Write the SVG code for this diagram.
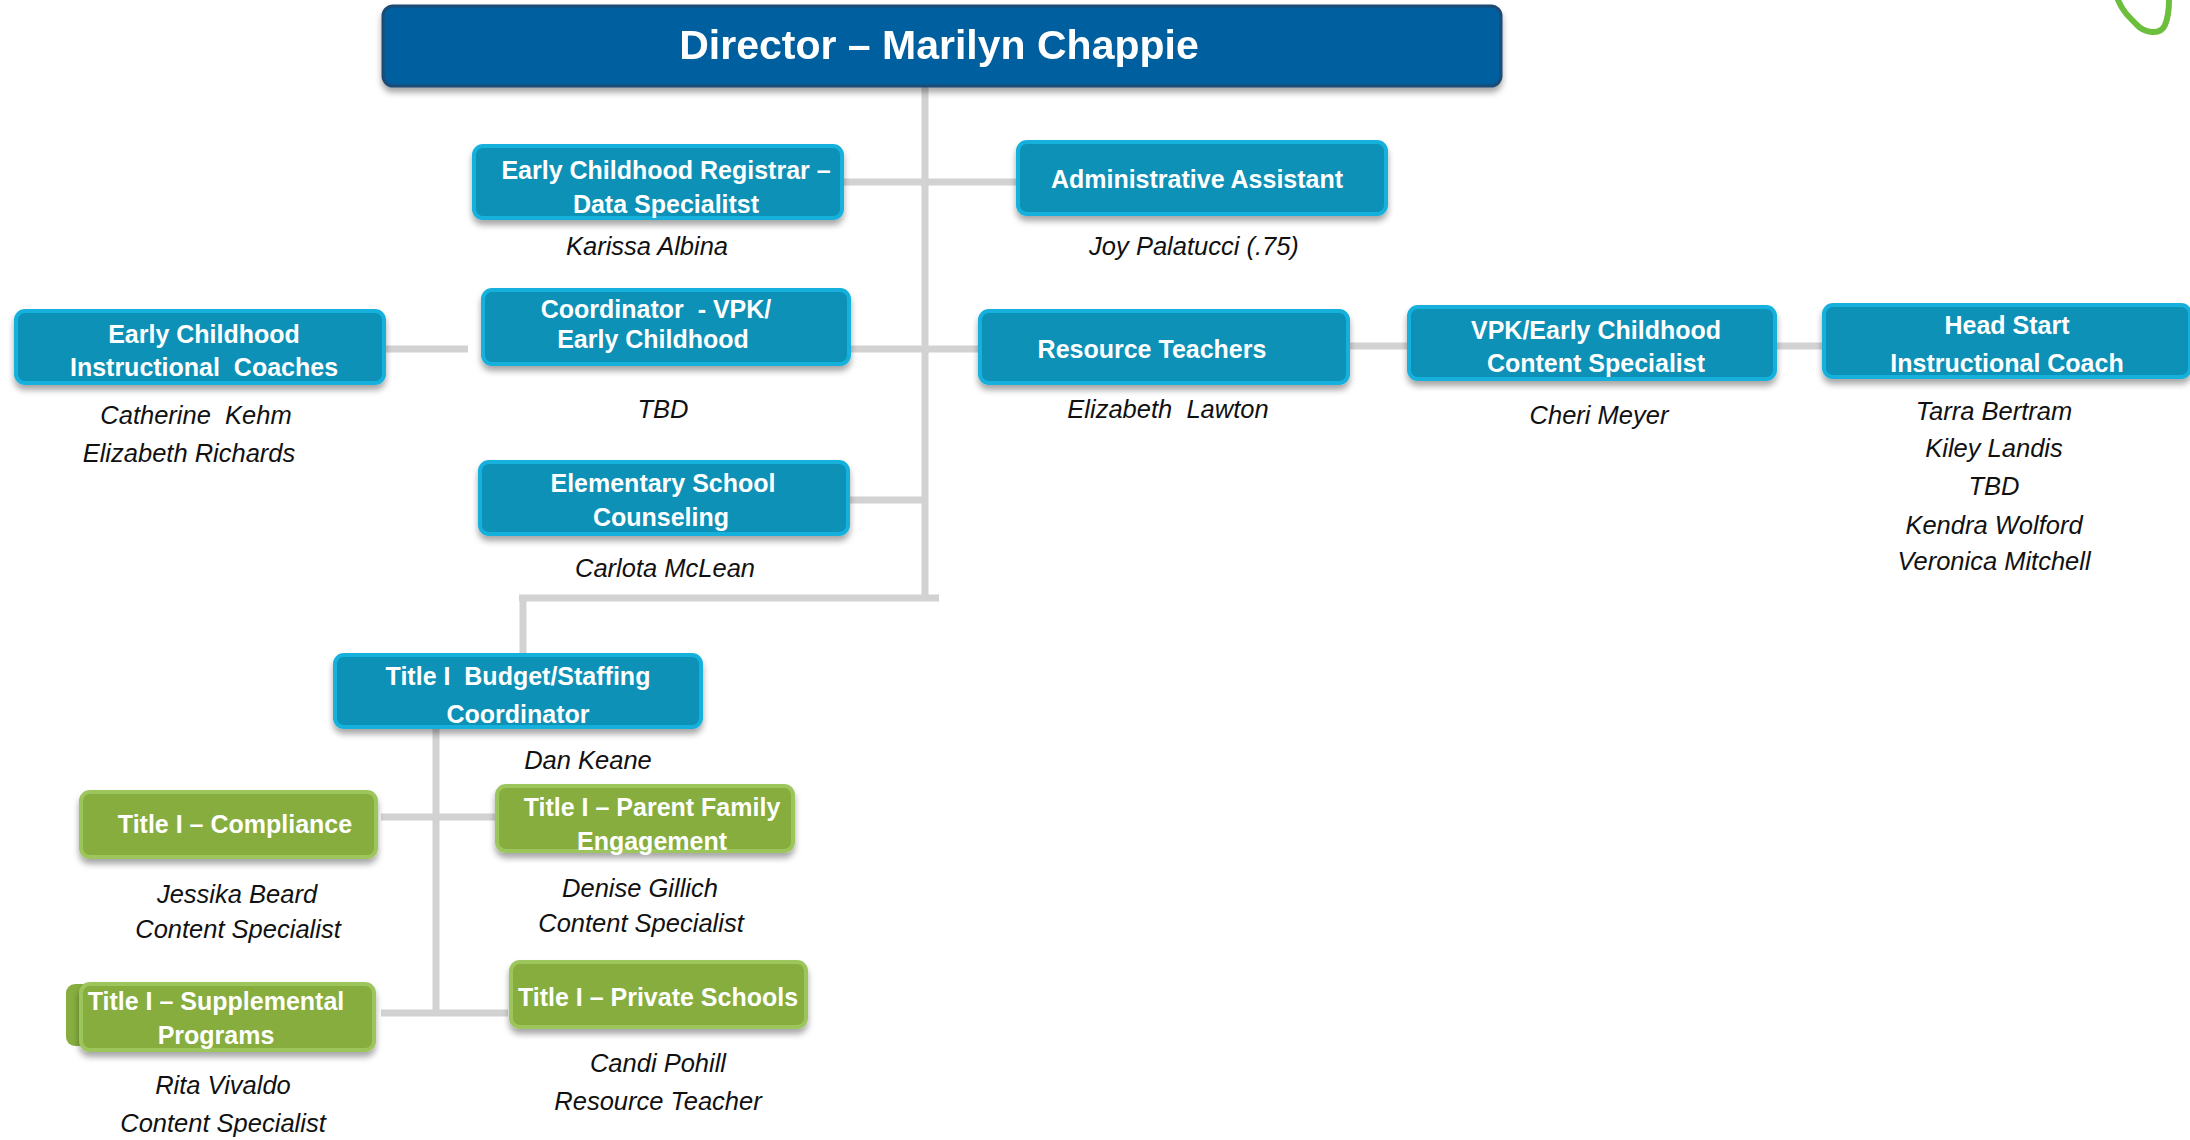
<svg xmlns="http://www.w3.org/2000/svg" width="2190" height="1140" viewBox="0 0 2190 1140">
<style>
.conn{stroke:#d2d2d2;stroke-width:7;fill:none;stroke-linecap:butt}
.blue{fill:#0a91b7;stroke:#14b0dc;stroke-width:4}
.green{fill:#86ad3e;stroke:#9cc55c;stroke-width:4}
.dir{fill:#035e9e;stroke:#1d4b74;stroke-width:3}
text{white-space:pre}
.lbl{font-family:"Liberation Sans",Arial,sans-serif;font-weight:bold;font-size:25px;fill:#fff;text-anchor:middle}
.dlbl{font-family:"Liberation Sans",Arial,sans-serif;font-weight:bold;font-size:41px;fill:#fff;text-anchor:middle}
.nm{font-family:"Liberation Sans",Arial,sans-serif;font-style:italic;font-size:25.5px;fill:#111;text-anchor:middle}
</style>
<defs>
<filter id="sh" x="-10%" y="-20%" width="120%" height="160%">
<feDropShadow dx="0" dy="5" stdDeviation="3" flood-color="#000" flood-opacity="0.35"/>
</filter>
</defs>
<rect width="2190" height="1140" fill="#fff"/>
<path d="M2118,0 C2122,10 2128,16 2136,24 C2144,33 2160,36 2165,25 C2168,18 2169,8 2169,0" fill="none" stroke="#6cbf3c" stroke-width="6" stroke-linecap="round"/>
<g id="connectors">
<line class="conn" x1="925" y1="87" x2="925" y2="601"/>
<line class="conn" x1="842" y1="182" x2="1017" y2="182"/>
<line class="conn" x1="384" y1="349" x2="468" y2="349"/>
<line class="conn" x1="849" y1="349" x2="979" y2="349"/>
<line class="conn" x1="1348" y1="346" x2="1408" y2="346"/>
<line class="conn" x1="1775" y1="346" x2="1823" y2="346"/>
<line class="conn" x1="848" y1="500" x2="925" y2="500"/>
<line class="conn" x1="939" y1="598" x2="519" y2="598"/>
<line class="conn" x1="523" y1="595" x2="523" y2="656"/>
<line class="conn" x1="436" y1="728" x2="436" y2="1016"/>
<line class="conn" x1="381" y1="817" x2="497" y2="817"/>
<line class="conn" x1="381" y1="1013" x2="508" y2="1013"/>
</g>
<g id="director" filter="url(#sh)">
<rect class="dir" x="383" y="6" width="1118" height="80" rx="10"/>
<text class="dlbl" x="939" y="59">Director – Marilyn Chappie</text>
</g>
<g id="registrar">
<rect class="blue" x="474" y="146" width="368" height="72" rx="9" filter="url(#sh)"/>
<text class="lbl" x="666" y="179">Early Childhood Registrar –</text>
<text class="lbl" x="666" y="213">Data Specialitst</text>
<text class="nm" x="647" y="255">Karissa Albina</text>
</g>
<g id="admin">
<rect class="blue" x="1018" y="142" width="368" height="72" rx="9" filter="url(#sh)"/>
<text class="lbl" x="1197" y="188">Administrative Assistant</text>
<text class="nm" x="1194" y="255">Joy Palatucci (.75)</text>
</g>
<g id="ec-coaches">
<rect class="blue" x="16" y="311" width="368" height="72" rx="9" filter="url(#sh)"/>
<text class="lbl" x="204" y="343">Early Childhood</text>
<text class="lbl" x="204" y="376">Instructional  Coaches</text>
<text class="nm" x="196" y="424">Catherine  Kehm</text>
<text class="nm" x="189" y="462">Elizabeth Richards</text>
</g>
<g id="coordinator">
<rect class="blue" x="483" y="290" width="366" height="74" rx="9" filter="url(#sh)"/>
<text class="lbl" x="656" y="318">Coordinator  - VPK/</text>
<text class="lbl" x="653" y="348">Early Childhood</text>
<text class="nm" x="663" y="418">TBD</text>
</g>
<g id="resource">
<rect class="blue" x="980" y="311" width="368" height="72" rx="9" filter="url(#sh)"/>
<text class="lbl" x="1152" y="358">Resource Teachers</text>
<text class="nm" x="1168" y="418">Elizabeth  Lawton</text>
</g>
<g id="vpk-content">
<rect class="blue" x="1409" y="307" width="366" height="72" rx="9" filter="url(#sh)"/>
<text class="lbl" x="1596" y="339">VPK/Early Childhood</text>
<text class="lbl" x="1596" y="372">Content Specialist</text>
<text class="nm" x="1599" y="424">Cheri Meyer</text>
</g>
<g id="head-start">
<rect class="blue" x="1824" y="305" width="366" height="72" rx="9" filter="url(#sh)"/>
<text class="lbl" x="2007" y="334">Head Start</text>
<text class="lbl" x="2007" y="372">Instructional Coach</text>
<text class="nm" x="1994" y="420">Tarra Bertram</text>
<text class="nm" x="1994" y="457">Kiley Landis</text>
<text class="nm" x="1994" y="495">TBD</text>
<text class="nm" x="1994" y="534">Kendra Wolford</text>
<text class="nm" x="1994" y="570">Veronica Mitchell</text>
</g>
<g id="elementary">
<rect class="blue" x="480" y="462" width="368" height="72" rx="9" filter="url(#sh)"/>
<text class="lbl" x="663" y="492">Elementary School</text>
<text class="lbl" x="661" y="526">Counseling</text>
<text class="nm" x="665" y="577">Carlota McLean</text>
</g>
<g id="title1-budget">
<rect class="blue" x="335" y="655" width="366" height="72" rx="9" filter="url(#sh)"/>
<text class="lbl" x="518" y="685">Title I  Budget/Staffing</text>
<text class="lbl" x="518" y="723">Coordinator</text>
<text class="nm" x="588" y="769">Dan Keane</text>
</g>
<g id="compliance">
<rect class="green" x="81" y="792" width="295" height="65" rx="9" filter="url(#sh)"/>
<text class="lbl" x="235" y="833">Title I – Compliance</text>
<text class="nm" x="237" y="903">Jessika Beard</text>
<text class="nm" x="238" y="938">Content Specialist</text>
</g>
<g id="parent-family">
<rect class="green" x="497" y="786" width="296" height="65" rx="9" filter="url(#sh)"/>
<text class="lbl" x="652" y="816">Title I – Parent Family</text>
<text class="lbl" x="652" y="850">Engagement</text>
<text class="nm" x="640" y="897">Denise Gillich</text>
<text class="nm" x="641" y="932">Content Specialist</text>
</g>
<g id="supplemental">
<rect x="66" y="984" width="120" height="62" rx="9" fill="#86ad3e"/>
<rect class="green" x="81" y="984" width="293" height="66" rx="9" filter="url(#sh)"/>
<text class="lbl" x="216" y="1010">Title I – Supplemental</text>
<text class="lbl" x="216" y="1044">Programs</text>
<text class="nm" x="223" y="1094">Rita Vivaldo</text>
<text class="nm" x="223" y="1132">Content Specialist</text>
</g>
<g id="private-schools">
<rect class="green" x="511" y="962" width="295" height="65" rx="9" filter="url(#sh)"/>
<text class="lbl" x="658" y="1006">Title I – Private Schools</text>
<text class="nm" x="658" y="1072">Candi Pohill</text>
<text class="nm" x="658" y="1110">Resource Teacher</text>
</g>
</svg>
